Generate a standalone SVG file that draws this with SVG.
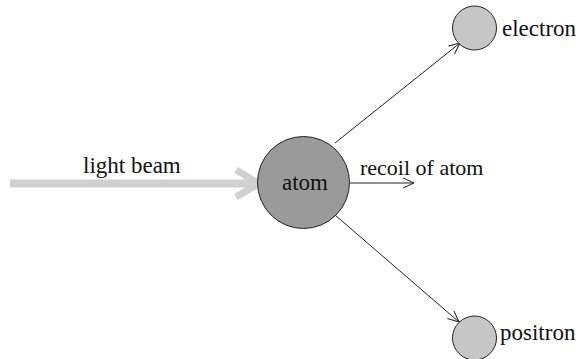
<svg xmlns="http://www.w3.org/2000/svg" width="582" height="359" viewBox="0 0 582 359">
<style>
.t{font-family:'Liberation Serif','Times New Roman','DejaVu Serif',serif;font-size:23px;fill:#111}
.c{stroke:#222;stroke-width:1}
.ln{stroke:#222;stroke-width:1;fill:none}
</style>
<defs>
<marker id="ah" markerUnits="userSpaceOnUse" markerWidth="14" markerHeight="12" refX="12" refY="6" orient="auto">
<path d="M1,1 L12,6 L1,11" fill="none" stroke="#222" stroke-width="1"/>
</marker>
</defs>
<rect width="582" height="359" fill="#fff"/>
<g id="connectors">
<g id="light-beam">
<line x1="10" y1="183.5" x2="256" y2="183.5" stroke="#d0d0d0" stroke-width="8"/>
<polyline points="236,170 259,183.5 236,197" fill="none" stroke="#d0d0d0" stroke-width="7"/>
<text class="t" x="83" y="173">light beam</text>
</g>
<line class="ln" x1="335" y1="143" x2="460" y2="43" marker-end="url(#ah)"/>
<line class="ln" x1="335" y1="215" x2="459" y2="322" marker-end="url(#ah)"/>
<line class="ln" x1="350" y1="183" x2="414" y2="183" marker-end="url(#ah)"/>
<text class="t" x="360" y="175" style="font-size:22px">recoil of atom</text>
</g>
<g id="atom">
<circle class="c" cx="303.5" cy="182.5" r="46" fill="#9a9a9a"/>
<text class="t" x="305" y="190" text-anchor="middle">atom</text>
</g>
<g id="electron">
<circle class="c" cx="474.5" cy="28" r="22" fill="#c6c6c6"/>
<text class="t" x="502" y="36">electron</text>
</g>
<g id="positron">
<circle class="c" cx="474.5" cy="338" r="22" fill="#c6c6c6"/>
<text class="t" x="500" y="340">positron</text>
</g>
</svg>
